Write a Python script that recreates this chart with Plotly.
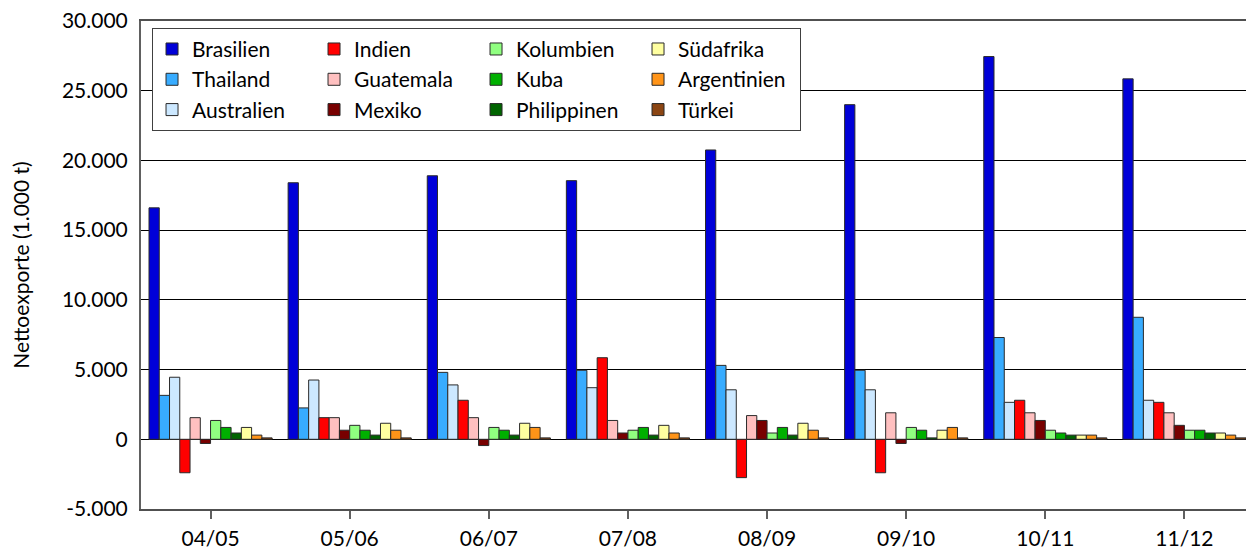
import plotly.graph_objects as go

seasons = ["04/05", "05/06", "06/07", "07/08", "08/09", "09/10", "10/11", "11/12"]

brasilien   = [16600, 18400, 18900, 18550, 20750, 24000, 27450, 25850]
thailand    = [3150, 2250, 4800, 4950, 5300, 4950, 7300, 8750]
australien  = [4450, 4250, 3900, 3700, 3550, 3550, 2650, 2800]
indien      = [-2400, 1550, 2800, 5850, -2750, -2400, 2800, 2650]
guatemala   = [1550, 1550, 1550, 1350, 1700, 1900, 1900, 1900]
mexiko      = [-300, 650, -450, 450, 1350, -300, 1350, 1000]
kolumbien   = [1350, 1000, 850, 650, 450, 850, 650, 650]
kuba        = [850, 650, 650, 850, 850, 650, 450, 650]
philippinen = [450, 300, 300, 300, 300, 100, 300, 450]
suedafrika  = [850, 1150, 1150, 1000, 1150, 650, 300, 450]
argentinien = [300, 650, 850, 450, 650, 850, 300, 300]
tuerkei     = [100, 100, 100, 100, 100, 100, 100, 100]

series_names = ["Brasilien", "Thailand", "Australien", "Indien", "Guatemala", "Mexiko",
                "Kolumbien", "Kuba", "Philippinen", "Südafrika", "Argentinien", "Türkei"]
series_values = [brasilien, thailand, australien, indien, guatemala, mexiko,
                 kolumbien, kuba, philippinen, suedafrika, argentinien, tuerkei]
colors = ["#0000D8", "#38ACFF", "#CCE8FF", "#FF0000", "#FFC0C0", "#780000",
          "#90FF80", "#00B000", "#006400", "#FFFFA0", "#FF9418", "#8B4513"]

y_tickvals = [-5000, 0, 5000, 10000, 15000, 20000, 25000, 30000]
y_ticktext = ["-5.000", "0", "5.000", "10.000", "15.000", "20.000", "25.000", "30.000"]

FONT = "Lato"

fig = go.Figure()
for i, (name, vals, col) in enumerate(zip(series_names, series_values, colors)):
    fig.add_trace(go.Bar(
        x=seasons, y=vals, name=name,
        marker=dict(color=col, line=dict(color="#2a2a2a", width=1)),
        legendgroup="g%d" % (i // 3),
    ))

# the page body has an 8px default margin, so the figure is shifted by 8px
fig.update_layout(
    width=1246, height=546,
    margin=dict(l=133, r=0, t=13, b=45),
    paper_bgcolor="white", plot_bgcolor="white",
    font=dict(family=FONT, size=21, color="black"),
    barmode="group", bargap=0.115, bargroupgap=0,
    showlegend=True,
    legend=dict(
        orientation="h", traceorder="grouped",
        x=0.0099, y=0.986, xanchor="left", yanchor="top",
        bgcolor="white", bordercolor="#404040", borderwidth=1,
        font=dict(family=FONT, size=21, color="black"),
        entrywidth=117, entrywidthmode="pixels",
        tracegroupgap=0,
    ),
    xaxis=dict(
        automargin=False, mirror=True,
        showgrid=False, showline=True, linecolor="#505050", linewidth=2,
        ticks="outside", ticklen=8, tickcolor="#606060", tickwidth=2,
        tickfont=dict(family=FONT, size=21, color="black"),
        ticklabelstandoff=2,
    ),
    yaxis=dict(
        automargin=False, ticklabeloverflow="allow",
        range=[-5000, 30000], tickvals=y_tickvals, ticktext=y_ticktext,
        showgrid=True, gridcolor="#000000", gridwidth=1,
        zeroline=True, zerolinecolor="#000000", zerolinewidth=1,
        showline=True, linecolor="#606060", linewidth=2,
        ticks="", ticklabelstandoff=7,
        tickfont=dict(family=FONT, size=21, color="black"),
        title=dict(text="Nettoexporte (1.000 t)", font=dict(family=FONT, size=21, color="black"), standoff=28),
    ),
)

fig.write_html("out.html")
